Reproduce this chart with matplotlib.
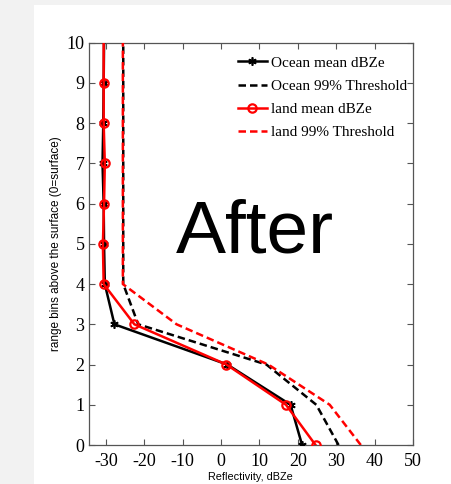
import numpy as np
import matplotlib.pyplot as plt
from matplotlib.patches import Rectangle

plt.rcParams['axes.unicode_minus'] = False

# range bins above surface
bins = [0, 1, 2, 3, 4, 5, 6, 7, 8, 9, 10]
ocean_mean = [21.1, 18.1, 1.6, -27.8, -30.3, -30.5, -30.6, -30.9, -30.7, -30.6, -30.5]
ocean_99 = [30.6, 24.8, 11.8, -21.6, -25.5, -25.5, -25.5, -25.5, -25.5, -25.5, -25.5]
land_mean = [24.6, 16.9, 1.4, -22.6, -30.6, -30.8, -30.5, -30.3, -30.6, -30.6, -30.6]
land_99 = [36.4, 28.3, 12.3, -11.6, -25.6, -25.6, -25.6, -25.6, -25.6, -25.6, -25.6]

xticks = [-30, -20, -10, 0, 10, 20, 30, 40, 50]
yticks = list(range(0, 11))

fig = plt.figure(figsize=(4.52, 4.84), dpi=100, facecolor='#f2f2f2')
fig.patches.append(Rectangle((34/452, 0), 1, 1 - 5/484, transform=fig.transFigure,
                             facecolor='white', edgecolor='none', zorder=-5))

ax = fig.add_axes([88.7/452, 39/484, 324.3/452, 402.3/484])
ax.set_facecolor('white')

serif = 'Liberation Serif'
sans = 'Liberation Sans'

ax.plot(ocean_mean, bins, color='black', lw=1.8, marker=(6, 2, 0), ms=6, mew=1.2,
        markevery=list(range(10)), label='Ocean mean dBZe', zorder=4)
ax.plot(ocean_99, bins, color='black', lw=1.8, ls=(0, (3, 1.6)), label='Ocean 99% Threshold', zorder=3)
ax.plot(land_mean, bins, color='red', lw=1.8, marker='o', ms=6, mfc='none', mew=1.6,
        markevery=list(range(10)), label='land mean dBZe', zorder=5)
ax.plot(land_99, bins, color='red', lw=1.8, ls=(0, (3, 1.6)), label='land 99% Threshold', zorder=3)

ax.set_xlim(-34.5, 50)
ax.set_ylim(0, 10)
ax.set_xticks(xticks)
ax.set_yticks(yticks)
ax.tick_params(direction='in', length=4, top=True, right=True, color='#555555',
               labelsize=13, pad=3)
ax.tick_params(axis='x', pad=6)
for lab in ax.get_xticklabels() + ax.get_yticklabels():
    lab.set_fontfamily(serif)
for s in ax.spines.values():
    s.set_color('#555555')
    s.set_linewidth(0.9)

ax.set_xlabel('Reflectivity, dBZe', fontfamily=sans, fontsize=7.8, labelpad=1)
ax.set_ylabel('range bins above the surface (0=surface)', fontfamily=sans, fontsize=8.5, labelpad=3)

leg = ax.legend(loc='upper left', bbox_to_anchor=(0.44, 0.982), frameon=False,
                prop={'family': serif, 'size': 11}, handlelength=1.95, handletextpad=0.26,
                labelspacing=0.62, borderaxespad=0)

fig.text(255/452, 1 - 233/484, 'After', fontfamily=sans, fontsize=54,
         ha='center', va='center', color='black')

fig.savefig('out.png', dpi=100, facecolor=fig.get_facecolor())
